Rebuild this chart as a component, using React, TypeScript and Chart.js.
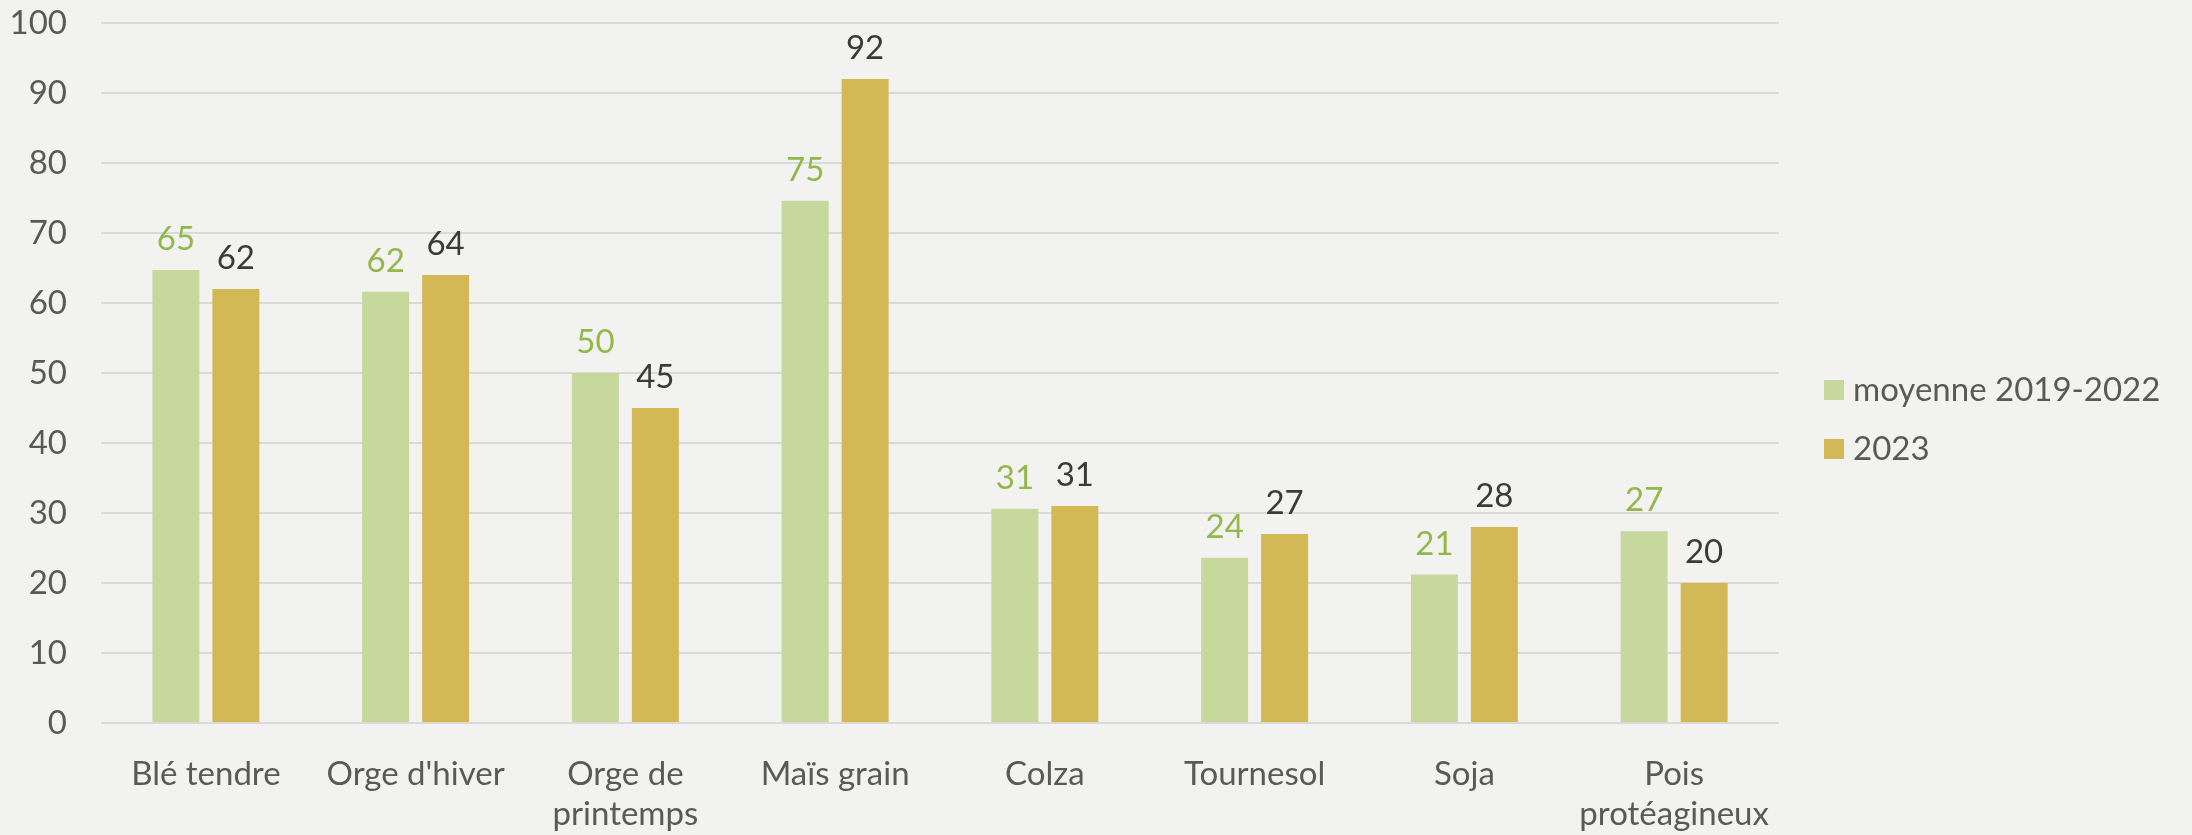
import React, { useEffect, useRef } from "react";
import { Chart, registerables } from "chart.js";

Chart.register(...registerables);

const categories: (string | string[])[] = [
  "Blé tendre",
  "Orge d'hiver",
  ["Orge de", "printemps"],
  "Maïs grain",
  "Colza",
  "Tournesol",
  "Soja",
  ["Pois", "protéagineux"],
];
const seriesNames = ["moyenne 2019-2022", "2023"];
const moyenneValues = [64.7, 61.6, 50.0, 74.6, 30.6, 23.6, 21.2, 27.4];
const values2023 = [62, 64, 45, 92, 31, 27, 28, 20];
const yTicks = { min: 0, max: 100, step: 10 };

const FONT = "Lato, 'Open Sans', sans-serif";
const FS = 33;
const GREEN = "#c6d89b";
const GOLD = "#d3b856";
const LABEL_COLORS = ["#92b84a", "#3a3a3a"];
const TEXT = "#595959";

const valueLabels = {
  id: "valueLabels",
  afterDatasetsDraw(chart: any) {
    const ctx = chart.ctx;
    ctx.save();
    ctx.font = `${FS}px ${FONT}`;
    ctx.textAlign = "center";
    ctx.textBaseline = "alphabetic";
    chart.data.datasets.forEach((ds: any, di: number) => {
      const meta = chart.getDatasetMeta(di);
      ctx.fillStyle = LABEL_COLORS[di];
      meta.data.forEach((el: any, i: number) => {
        const v = ds.data[i];
        ctx.fillText(String(Math.round(v)), el.x, el.y - 20);
      });
    });
    ctx.restore();
  },
};

const sideLegend = {
  id: "sideLegend",
  afterDraw(chart: any) {
    const ctx = chart.ctx;
    const area = chart.chartArea;
    const x0 = area.right + 45;
    const rowGap = 59;
    const n = chart.data.datasets.length;
    const cy0 = chart.height / 2 - ((n - 1) * rowGap) / 2 + 2;
    ctx.save();
    ctx.font = `${FS}px ${FONT}`;
    ctx.textAlign = "left";
    ctx.textBaseline = "middle";
    chart.data.datasets.forEach((ds: any, i: number) => {
      const cy = cy0 + i * rowGap;
      ctx.fillStyle = ds.backgroundColor;
      ctx.fillRect(x0, cy - 10, 20, 20);
      ctx.fillStyle = TEXT;
      ctx.fillText(ds.label, x0 + 29, cy);
    });
    ctx.restore();
  },
};

export default function App() {
  const ref = useRef<HTMLCanvasElement>(null);
  useEffect(() => {
    if (!ref.current) return;
    const chart = new Chart(ref.current, {
      type: "bar",
      data: {
        labels: categories,
        datasets: [
          {
            label: seriesNames[0],
            data: moyenneValues,
            backgroundColor: GREEN,
            barPercentage: 0.783,
            categoryPercentage: 0.572,
          },
          {
            label: seriesNames[1],
            data: values2023,
            backgroundColor: GOLD,
            barPercentage: 0.783,
            categoryPercentage: 0.572,
          },
        ],
      },
      options: {
        animation: false,
        responsive: true,
        maintainAspectRatio: false,
        layout: { padding: { top: 23, right: 2192 - 1779, left: 0, bottom: 0 } },
        plugins: {
          tooltip: { enabled: false },
          legend: { display: false },
        },
        scales: {
          x: {
            grid: { display: false },
            border: { display: false },
            ticks: {
              color: TEXT,
              font: { family: FONT, size: FS, lineHeight: 1.2 },
              padding: 24,
              maxRotation: 0,
              autoSkip: false,
            },
            afterFit: (s: any) => {
              s.height = 835 - 723;
              s.paddingLeft = 0;
              s.paddingRight = 0;
            },
          },
          y: {
            min: yTicks.min,
            max: yTicks.max,
            grid: { color: "#d9d9d9", lineWidth: 2, drawTicks: false },
            border: { display: false },
            ticks: {
              stepSize: yTicks.step,
              color: TEXT,
              font: { family: FONT, size: FS },
              padding: 34,
            },
            afterFit: (s: any) => {
              s.width = 101;
              s.paddingTop = 0;
              s.paddingBottom = 0;
            },
          },
        },
      },
      plugins: [valueLabels, sideLegend],
    });
    return () => chart.destroy();
  }, []);
  return (
    <div
      style={{
        position: "absolute",
        left: 0,
        top: 0,
        width: 2192,
        height: 835,
        background: "#f2f2f0",
      }}
    >
      <canvas ref={ref} />
    </div>
  );
}
